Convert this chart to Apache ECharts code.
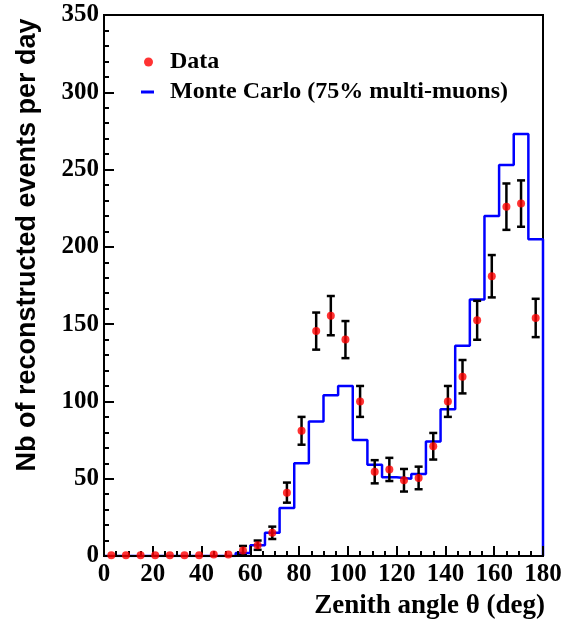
<!DOCTYPE html>
<html>
<head>
<meta charset="utf-8">
<script src="https://cdn.jsdelivr.net/npm/echarts@6/dist/echarts.min.js"></script>
<style>
  html, body { margin: 0; padding: 0; background: #fff; }
  #chart { width: 570px; height: 627px; }
</style>
</head>
<body>
<div id="chart"></div>
<script>
// 6 degree bins in zenith angle
const binEdges = [0, 6, 12, 18, 24, 30, 36, 42, 48, 54, 60, 66, 72, 78, 84, 90,
  96, 102, 108, 114, 120, 126, 132, 138, 144, 150, 156, 162, 168, 174, 180];

// measured rate (events/day) with errors, one per bin
const dataValues = [0.5, 0.5, 0.5, 0.5, 0.5, 0.5, 0.5, 1, 1,
  3.5, 7, 15, 41, 81, 145.5, 155.5, 140, 100, 54.5, 56, 49, 50.5,
  71, 100, 116, 152.5, 181, 226, 228, 154];
const dataErrors = [0, 0, 0, 0, 0, 0, 0, 0, 0,
  3, 3, 4, 6.5, 9, 12, 12.7, 12, 10, 7.5, 7.5, 7.3, 7.3,
  8.6, 10, 10.8, 12.6, 13.7, 15, 15, 12.4];

// Monte Carlo histogram contents
const mcValues = [0, 0, 0, 0, 0, 0, 0, 0, 0,
  2, 7, 15, 31, 60, 87, 104, 110, 75, 59, 51, 50, 53,
  74, 95, 136, 166, 220, 253, 273, 205];

const yTicks = ['0', '50', '100', '150', '200', '250', '300', '350'];

const nameData = 'Data';
const nameMC = 'Monte Carlo (75% multi-muons)';

const serif = '"Liberation Serif", "Times New Roman", serif';
const sans = '"Liberation Sans", Arial, sans-serif';

const points = dataValues.map((v, i) => [(binEdges[i] + binEdges[i + 1]) / 2, v, dataErrors[i]]);

let mcPts = mcValues.map((v, i) => [binEdges[i], v]);
mcPts.push([binEdges[binEdges.length - 1], mcValues[mcValues.length - 1]]);
mcPts.push([binEdges[binEdges.length - 1], 0]);

const chart = echarts.init(document.getElementById('chart'));

const legendText = { fontFamily: serif, fontWeight: 'bold', fontSize: 24, color: '#000' };

chart.setOption({
  animation: false,
  backgroundColor: '#fff',
  grid: {
    left: 104, right: 27, top: 15, bottom: 71,
    show: true, borderColor: '#000', borderWidth: 2
  },
  legend: [
    {
      data: [{ name: nameData, icon: 'circle' }],
      left: 144, top: 50, padding: 0, orient: 'vertical',
      itemWidth: 9, itemHeight: 9,
      textStyle: Object.assign({ padding: [0, 0, 0, 12] }, legendText)
    },
    {
      data: [{ name: nameMC, icon: 'rect' }],
      left: 141, top: 80, padding: 0, orient: 'vertical',
      itemWidth: 13, itemHeight: 3,
      textStyle: Object.assign({ padding: [0, 0, 0, 11] }, legendText)
    }
  ],
  xAxis: {
    type: 'value', min: 0, max: 180, interval: 20, z: 5,
    axisLine: { show: true, onZero: false, lineStyle: { color: '#000', width: 2 } },
    axisTick: { show: true, inside: true, length: 10, lineStyle: { color: '#000', width: 2 } },
    minorTick: { show: true, splitNumber: 4, length: 5, lineStyle: { color: '#000', width: 2 } },
    splitLine: { show: false },
    axisLabel: { margin: 6, color: '#000', fontFamily: serif, fontWeight: 'bold', fontSize: 25 }
  },
  yAxis: {
    type: 'value', min: 0, max: 350, interval: 50, z: 5,
    axisLine: { show: true, lineStyle: { color: '#000', width: 2 } },
    axisTick: { show: true, inside: true, length: 10, lineStyle: { color: '#000', width: 2 } },
    minorTick: { show: true, splitNumber: 5, length: 5, lineStyle: { color: '#000', width: 2 } },
    splitLine: { show: false },
    axisLabel: {
      margin: 5, color: '#000', fontFamily: serif, fontWeight: 'bold', fontSize: 25,
      formatter: (v) => yTicks[Math.round(v / 50)]
    }
  },
  graphic: [
    {
      type: 'text', x: 28, y: 245, rotation: Math.PI / 2,
      style: {
        text: 'Nb of reconstructed events per day', fill: '#000',
        font: 'bold 27px ' + sans, align: 'center', verticalAlign: 'middle'
      }
    },
    {
      type: 'text', x: 545, y: 606,
      style: {
        text: 'Zenith angle θ (deg)', fill: '#000',
        font: 'bold 27px ' + serif, align: 'right', verticalAlign: 'middle'
      }
    }
  ],
  series: [
    {
      name: nameMC, type: 'line', step: 'end', data: mcPts,
      showSymbol: false, z: 3,
      itemStyle: { color: '#0000ff' },
      lineStyle: { color: '#0000ff', width: 2.5 }
    },
    {
      name: 'errors', type: 'custom', z: 8,
      data: points,
      renderItem: function (params, api) {
        const x = api.value(0), v = api.value(1), e = api.value(2);
        if (!e) return null;
        const lo = api.coord([x, v - e]);
        const hi = api.coord([x, v + e]);
        const w = 4;
        const st = { stroke: '#000', lineWidth: 2.5 };
        return {
          type: 'group',
          children: [
            { type: 'line', shape: { x1: lo[0], y1: lo[1], x2: hi[0], y2: hi[1] }, style: st },
            { type: 'line', shape: { x1: lo[0] - w, y1: lo[1], x2: lo[0] + w, y2: lo[1] }, style: st },
            { type: 'line', shape: { x1: hi[0] - w, y1: hi[1], x2: hi[0] + w, y2: hi[1] }, style: st }
          ]
        };
      }
    },
    {
      name: nameData, type: 'scatter', z: 10,
      data: points.map(p => [p[0], p[1]]),
      symbol: 'circle', symbolSize: 8,
      itemStyle: { color: '#ff0000' }
    }
  ]
});
</script>
</body>
</html>
